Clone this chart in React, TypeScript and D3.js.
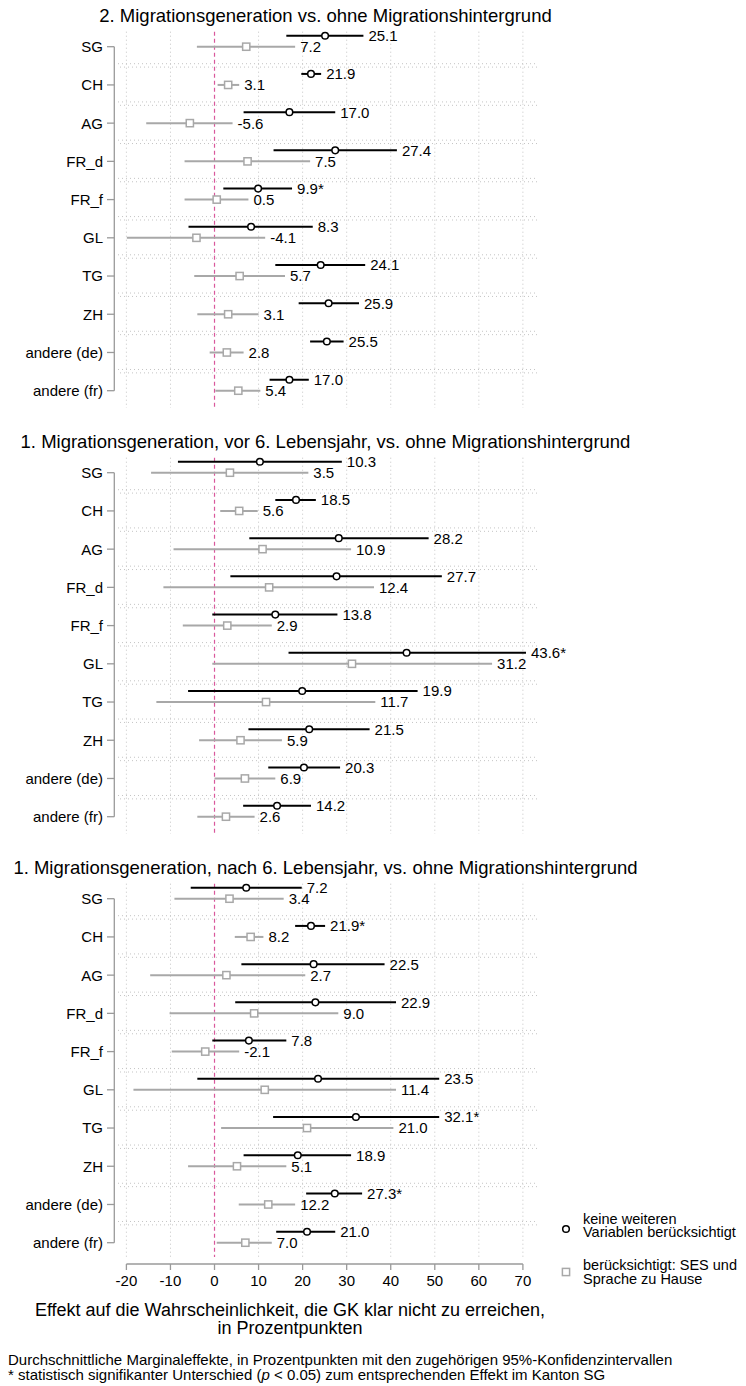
import React, { useEffect } from "react";
import * as d3 from "d3";

const categories = ["SG", "CH", "AG", "FR_d", "FR_f", "GL", "TG", "ZH", "andere (de)", "andere (fr)"];
const panelTitles = [
  "2. Migrationsgeneration vs. ohne Migrationshintergrund",
  "1. Migrationsgeneration, vor 6. Lebensjahr, vs. ohne Migrationshintergrund",
  "1. Migrationsgeneration, nach 6. Lebensjahr, vs. ohne Migrationshintergrund",
];
const xTicks = [-20, -10, 0, 10, 20, 30, 40, 50, 60, 70];

// Panel 1: 2. Migrationsgeneration
const p1KeineEst = [25.1, 21.9, 17.0, 27.4, 9.9, 8.3, 24.1, 25.9, 25.5, 17.0];
const p1KeineLo = [16.3, 19.7, 6.6, 13.4, 2.0, -5.9, 13.8, 19.1, 21.7, 12.5];
const p1KeineHi = [33.8, 24.2, 27.4, 41.4, 17.6, 22.3, 34.2, 32.8, 29.3, 21.4];
const p1KeineSig = [false, false, false, false, true, false, false, false, false, false];
const p1SesEst = [7.2, 3.1, -5.6, 7.5, 0.5, -4.1, 5.7, 3.1, 2.8, 5.4];
const p1SesLo = [-4.0, 0.7, -15.5, -6.8, -6.8, -19.9, -4.6, -3.9, -1.1, 0.2];
const p1SesHi = [18.3, 5.6, 4.1, 21.7, 7.7, 11.5, 16.0, 10.0, 6.6, 10.4];

// Panel 2: 1. Migrationsgeneration, vor 6. Lebensjahr
const p2KeineEst = [10.3, 18.5, 28.2, 27.7, 13.8, 43.6, 19.9, 21.5, 20.3, 14.2];
const p2KeineLo = [-8.3, 13.8, 7.9, 3.6, -0.5, 16.8, -6.0, 7.7, 12.2, 6.5];
const p2KeineHi = [28.9, 23.0, 48.6, 51.6, 27.9, 70.7, 46.1, 35.2, 28.5, 21.9];
const p2KeineSig = [false, false, false, false, false, true, false, false, false, false];
const p2SesEst = [3.5, 5.6, 10.9, 12.4, 2.9, 31.2, 11.7, 5.9, 6.9, 2.6];
const p2SesLo = [-14.4, 1.3, -9.3, -11.6, -7.2, -0.5, -13.2, -3.5, 0.0, -3.9];
const p2SesHi = [21.3, 9.8, 31.0, 36.2, 13.0, 63.0, 36.5, 15.3, 13.8, 9.1];

// Panel 3: 1. Migrationsgeneration, nach 6. Lebensjahr
const p3KeineEst = [7.2, 21.9, 22.5, 22.9, 7.8, 23.5, 32.1, 18.9, 27.3, 21.0];
const p3KeineLo = [-5.4, 18.3, 6.1, 4.7, -0.5, -3.9, 13.3, 6.6, 20.8, 14.0];
const p3KeineHi = [19.8, 25.1, 38.6, 41.2, 16.3, 51.0, 51.0, 31.0, 33.5, 27.4];
const p3KeineSig = [false, true, false, false, false, false, true, false, true, false];
const p3SesEst = [3.4, 8.2, 2.7, 9.0, -2.1, 11.4, 21.0, 5.1, 12.2, 7.0];
const p3SesLo = [-9.1, 4.6, -14.6, -10.2, -9.7, -18.4, 1.5, -6.0, 5.5, 0.5];
const p3SesHi = [15.7, 11.1, 20.6, 28.1, 5.6, 41.2, 40.6, 16.3, 18.3, 13.0];

const panels = [
  { title: panelTitles[0], kEst: p1KeineEst, kLo: p1KeineLo, kHi: p1KeineHi, kSig: p1KeineSig, sEst: p1SesEst, sLo: p1SesLo, sHi: p1SesHi },
  { title: panelTitles[1], kEst: p2KeineEst, kLo: p2KeineLo, kHi: p2KeineHi, kSig: p2KeineSig, sEst: p2SesEst, sLo: p2SesLo, sHi: p2SesHi },
  { title: panelTitles[2], kEst: p3KeineEst, kLo: p3KeineLo, kHi: p3KeineHi, kSig: p3KeineSig, sEst: p3SesEst, sLo: p3SesLo, sHi: p3SesHi },
];

const legendLabels = [
  ["keine weiteren", "Variablen berücksichtigt"],
  ["berücksichtigt: SES und", "Sprache zu Hause"],
];
const xTitle = ["Effekt auf die Wahrscheinlichkeit, die GK klar nicht zu erreichen,", "in Prozentpunkten"];

const W = 746;
const H = 1386;
const FONT = "'Liberation Sans', Arial, Helvetica, sans-serif";
const GRID = "#c4c4c4";
const GRAY = "#a8a8a8";
const AXIS = "#9a9a9a";
const PINK = "#d9589c";

const x = d3.scaleLinear().domain([-20, 70]).range([126.4, 522.9]);
const PANEL_STEP = 426;
const BLACK_OFF = -11;

function Panel({ p, idx }: { p: any; idx: number }) {
  const off = idx * PANEL_STEP;
  const y = d3.scalePoint<string>().domain(categories).range([46.7 + off, 390.7 + off]);
  const gridTop = 31.7 + off;
  const gridBottom = idx === 2 ? 1257 : 408 + off;
  const plotL = 118;
  const plotR = 537;
  return (
    <g>
      <text x={325.5} y={15.7 + off + 6.6} textAnchor="middle" fontSize={18.5} fontFamily={FONT} fill="#000">
        {p.title}
      </text>
      {xTicks.filter((t) => t !== 0).map((t) => (
        <line key={"vg" + t} x1={x(t)} x2={x(t)} y1={gridTop} y2={gridBottom} stroke={GRID} strokeWidth={1} strokeDasharray="1 3" />
      ))}
      {categories.slice(0, -1).map((c) => (
        <g key={"hs" + c}>
          <line x1={plotL} x2={plotR} y1={(y(c) as number) + 17} y2={(y(c) as number) + 17} stroke={GRID} strokeDasharray="1 3" />
          <line x1={plotL + 2} x2={plotR} y1={(y(c) as number) + 20.4} y2={(y(c) as number) + 20.4} stroke={GRID} strokeDasharray="1 3" />
        </g>
      ))}
      <line x1={x(0)} x2={x(0)} y1={gridTop} y2={gridBottom} stroke={PINK} strokeWidth={1.2} strokeDasharray="4 3" />
      <line x1={114.3} x2={114.3} y1={y(categories[0])} y2={y(categories[categories.length - 1])} stroke={AXIS} strokeWidth={1.3} />
      {categories.map((c) => (
        <g key={"yl" + c}>
          <line x1={107} x2={114.3} y1={y(c)} y2={y(c)} stroke={AXIS} strokeWidth={1.3} />
          <text x={103} y={(y(c) as number) + 5.4} textAnchor="end" fontSize={15} fontFamily={FONT} fill="#000">
            {c}
          </text>
        </g>
      ))}
      {categories.map((c, i) => {
        const yg = y(c) as number;
        const yb = yg + BLACK_OFF;
        return (
          <g key={"d" + c}>
            <line x1={x(p.sLo[i])} x2={x(p.sHi[i])} y1={yg} y2={yg} stroke={GRAY} strokeWidth={2} />
            <rect x={x(p.sEst[i]) - 3.6} y={yg - 3.6} width={7.2} height={7.2} fill="#fff" stroke={GRAY} strokeWidth={1.5} />
            <text x={x(p.sHi[i]) + 5} y={yg + 5.4} fontSize={15} fontFamily={FONT} fill="#000">
              {p.sEst[i].toFixed(1)}
            </text>
            <line x1={x(p.kLo[i])} x2={x(p.kHi[i])} y1={yb} y2={yb} stroke="#000" strokeWidth={2} />
            <circle cx={x(p.kEst[i])} cy={yb} r={3.3} fill="#fff" stroke="#000" strokeWidth={1.5} />
            <text x={x(p.kHi[i]) + 5} y={yb + 5.4} fontSize={15} fontFamily={FONT} fill="#000">
              {p.kEst[i].toFixed(1) + (p.kSig[i] ? "*" : "")}
            </text>
          </g>
        );
      })}
    </g>
  );
}

export default function App() {
  useEffect(() => {
    document.body.style.margin = "0";
  }, []);
  const axisY = 1264;
  return (
    <svg width={W} height={H} viewBox={`0 0 ${W} ${H}`} style={{ display: "block", background: "#fff" }}>
      <rect x={0} y={0} width={W} height={H} fill="#fff" />
      {panels.map((p, i) => (
        <Panel key={i} p={p} idx={i} />
      ))}
      <line x1={x(-20)} x2={x(70)} y1={axisY} y2={axisY} stroke={AXIS} strokeWidth={1.3} />
      {xTicks.map((t) => (
        <g key={"xt" + t}>
          <line x1={x(t)} x2={x(t)} y1={axisY} y2={axisY + 6} stroke={AXIS} strokeWidth={1.3} />
          <text x={x(t)} y={axisY + 22} textAnchor="middle" fontSize={15} fontFamily={FONT} fill="#000">
            {t}
          </text>
        </g>
      ))}
      <text x={290} y={1315.5} textAnchor="middle" fontSize={18} fontFamily={FONT} fill="#000">
        {xTitle[0]}
      </text>
      <text x={290} y={1334} textAnchor="middle" fontSize={18} fontFamily={FONT} fill="#000">
        {xTitle[1]}
      </text>
      <text x={8} y={1365} fontSize={15} fontFamily={FONT} fill="#000">
        Durchschnittliche Marginaleffekte, in Prozentpunkten mit den zugehörigen 95%-Konfidenzintervallen
      </text>
      <text x={8} y={1379.5} fontSize={15} fontFamily={FONT} fill="#000">
        * statistisch signifikanter Unterschied (<tspan fontStyle="italic">p</tspan> {"< 0.05) zum entsprechenden Effekt im Kanton SG"}
      </text>
      <circle cx={566} cy={1229} r={3.3} fill="#fff" stroke="#000" strokeWidth={1.5} />
      <text x={583} y={1223.5} fontSize={14.5} fontFamily={FONT} fill="#000">{legendLabels[0][0]}</text>
      <text x={583} y={1237} fontSize={14.5} fontFamily={FONT} fill="#000">{legendLabels[0][1]}</text>
      <rect x={566 - 3.6} y={1272 - 3.6} width={7.2} height={7.2} fill="#fff" stroke={GRAY} strokeWidth={1.5} />
      <text x={583} y={1270} fontSize={14.5} fontFamily={FONT} fill="#000">{legendLabels[1][0]}</text>
      <text x={583} y={1283.5} fontSize={14.5} fontFamily={FONT} fill="#000">{legendLabels[1][1]}</text>
    </svg>
  );
}
